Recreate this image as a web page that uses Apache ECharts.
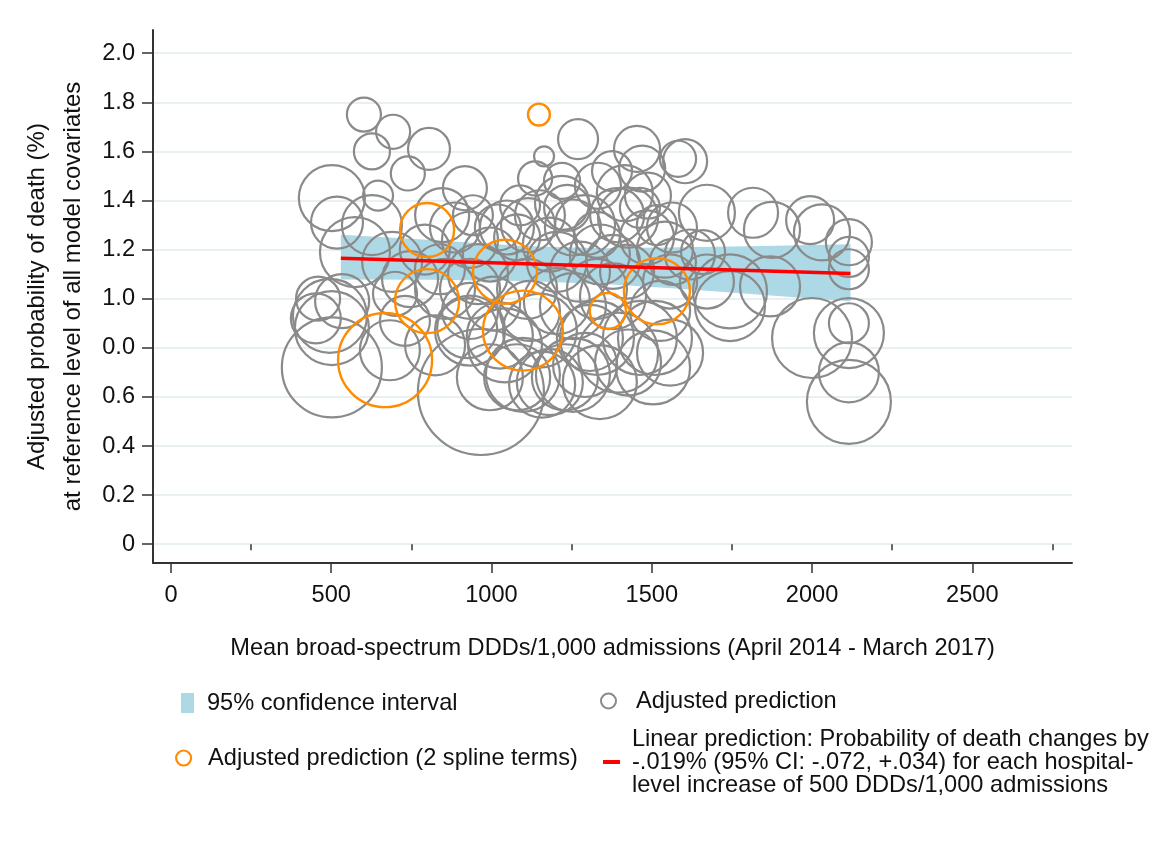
<!DOCTYPE html>
<html>
<head>
<meta charset="utf-8">
<script src="https://cdn.jsdelivr.net/npm/echarts@6/dist/echarts.min.js"></script>
<style>
  html, body { margin: 0; padding: 0; background: #fff; }
  #chart { width: 1160px; height: 842px; }
</style>
</head>
<body>
<div id="chart"></div>
<script>
  // hospitals: [mean DDDs/1,000 admissions, adjusted probability of death (%), bubble weight]
  var hospitals = [
    [602, 1.75, 11.6], [693, 1.68, 11.6], [627, 1.60, 13], [805, 1.61, 17.6], [739, 1.51, 11.6],
    [502, 1.41, 43.6], [646, 1.42, 9], [917, 1.45, 19.4], [518, 1.31, 27], [574, 1.19, 49],
    [627, 1.30, 36], [690, 1.15, 36], [846, 1.34, 29.2], [886, 1.29, 25], [933, 1.24, 31.4],
    [792, 1.20, 25], [534, 0.99, 29.2], [496, 0.93, 54.8], [502, 0.88, 54.8], [502, 0.72, 100],
    [459, 1.00, 19.4], [452, 0.92, 25], [683, 0.79, 36], [824, 0.81, 36], [967, 0.62, 158.8],
    [746, 1.08, 31.4], [855, 1.04, 36], [933, 0.95, 31.4], [730, 0.91, 25], [933, 0.87, 49],
    [839, 1.12, 25], [958, 1.10, 36], [699, 1.02, 19.4], [1270, 1.65, 16], [1164, 1.58, 4],
    [1136, 1.49, 11.6], [1220, 1.48, 13], [1454, 1.61, 21.2], [1470, 1.53, 21.2], [1582, 1.57, 13],
    [1604, 1.56, 19.4], [1332, 1.46, 21.2], [1416, 1.43, 31.4], [1488, 1.42, 21.2], [1220, 1.39, 29.2],
    [1292, 1.30, 36], [1114, 1.30, 29.2], [1020, 1.29, 21.2], [1563, 1.29, 25], [1426, 1.33, 36],
    [1089, 1.38, 16], [1048, 1.29, 29.2], [1151, 1.34, 25], [1254, 1.29, 31.4], [1392, 1.34, 29.2],
    [1485, 1.25, 29.2], [1338, 1.18, 36], [1204, 1.15, 36], [1111, 1.04, 36], [1254, 0.97, 43.6],
    [1379, 1.01, 43.6], [1151, 0.87, 54.8], [1329, 0.84, 54.8], [1463, 0.84, 54.8], [924, 0.88, 36],
    [933, 1.04, 36], [995, 1.18, 29.2], [1098, 0.69, 54.8], [1254, 0.69, 54.8], [1426, 0.74, 43.6],
    [1182, 0.66, 43.6], [1557, 0.78, 43.6], [1005, 0.98, 29.2], [1526, 0.95, 36], [1516, 1.30, 16],
    [1557, 1.07, 29.2], [1672, 1.35, 31.4], [1816, 1.35, 25], [1875, 1.28, 31.4], [1994, 1.32, 23],
    [2031, 1.27, 31.4], [2115, 1.23, 21.2], [2115, 1.17, 16], [2115, 1.12, 16], [1660, 1.19, 19.4],
    [1744, 1.03, 54.8], [1869, 1.05, 36], [1672, 1.07, 29.2], [2000, 0.84, 64], [2115, 0.86, 49],
    [2115, 0.90, 16], [2115, 0.70, 36], [2115, 0.58, 70.6], [1744, 0.97, 49], [1376, 1.52, 16],
    [1619, 1.18, 25], [1541, 1.20, 31.4], [1080, 0.68, 43.6], [1158, 0.65, 43.6], [1229, 0.68, 43.6],
    [1292, 0.73, 41], [1395, 0.78, 64], [1510, 0.84, 54.8], [1042, 0.81, 54.8],
    [942, 1.34, 16], [1080, 1.25, 21.2], [1182, 1.22, 29.2], [1276, 1.11, 36], [1120, 0.95, 36],
    [1204, 0.99, 43.6], [1329, 1.04, 36], [1423, 1.11, 29.2], [1026, 0.85, 43.6], [1307, 0.84, 43.6],
    [1379, 1.15, 29.2], [1566, 1.15, 21.2], [1236, 1.37, 21.2], [1329, 1.26, 21.2], [1463, 1.37, 16],
    [995, 0.68, 43.6], [1338, 0.66, 54.8], [1504, 0.72, 54.8]
  ];
  var splineHospitals = [
    [1148, 1.75, 4.8], [799, 1.28, 29.2], [1042, 1.11, 41], [1516, 1.03, 43.6],
    [799, 0.99, 41], [668, 0.75, 88.4], [1098, 0.87, 64], [1363, 0.95, 13]
  ];

  // 95% CI band and linear fit
  var ciX     = [530, 800, 1100, 1350, 1600, 1850, 2120];
  var ciLower = [1.078, 1.077, 1.072, 1.06, 1.04, 1.015, 0.99];
  var ciUpper = [1.26, 1.24, 1.215, 1.205, 1.21, 1.215, 1.222];
  var fitX = [530, 2120];
  var fitY = [1.165, 1.103];

  var xTicks      = [0, 500, 1000, 1500, 2000, 2500];
  var xMinorTicks = [250, 750, 1250, 1750, 2250, 2750];
  var yTicks      = [0, 0.2, 0.4, 0.6, 0.8, 1.0, 1.2, 1.4, 1.6, 1.8, 2.0];
  var yTickLabels = ['0', '0.2', '0.4', '0.6', '0.0', '1.0', '1.2', '1.4', '1.6', '1.8', '2.0'];

  var linearName = 'Linear prediction';
  var linearText = 'Linear prediction: Probability of death changes by\n' +
                   '-.019% (95% CI: -.072, +.034) for each hospital-\n' +
                   'level increase of 500 DDDs/1,000 admissions';

  var FONT = 'Liberation Sans, Arial, sans-serif';
  var FS = 23.6;
  var GREY = '#8a8a8a', ORANGE = '#ff8c00', BLUE = '#add8e6', RED = '#ff0000';

  function bubbleSize(v) {
    return Math.sqrt(v[2]) * 10;
  }

  function pairs(xs, ys) {
    return xs.map(function(x, i) { return [x, ys[i]]; });
  }

  // band polygon: upper edge left->right, lower edge right->left
  function renderBand(params, api) {
    if (params.dataIndex !== 0) return;
    var upper = [], lower = [];
    for (var i = 0; i < ciX.length; i++) {
      upper.push(api.coord([ciX[i], ciUpper[i]]));
      lower.unshift(api.coord([ciX[i], ciLower[i]]));
    }
    return {
      type: 'polygon',
      shape: { points: upper.concat(lower) },
      style: { fill: BLUE }
    };
  }

  function legendAt(name, left, top, icon, w, h, style, pad) {
    return {
      left: left, top: top, padding: 0, itemWidth: w, itemHeight: h,
      selectedMode: false,
      data: [{ name: name, icon: icon, itemStyle: style }],
      formatter: function(n) { return n === linearName ? linearText : n; },
      textStyle: { fontFamily: FONT, fontSize: FS, color: '#111', lineHeight: 23, padding: [0, 0, 0, pad] }
    };
  }

  var chart = echarts.init(document.getElementById('chart'), null, { renderer: 'canvas' });

  var axisText = { fontFamily: FONT, fontSize: FS, color: '#111' };

  var option = {
    animation: false,
    backgroundColor: '#fff',
    grid: { left: 153, top: 30, width: 919, height: 533, containLabel: false },
    xAxis: [{
      type: 'value', min: -56, max: 2811,
      name: 'Mean broad-spectrum DDDs/1,000 admissions (April 2014 - March 2017)',
      nameLocation: 'middle', nameGap: 73, nameTextStyle: axisText,
      axisLine: { show: true, onZero: false, lineStyle: { color: '#333', width: 2 } },
      axisTick: { show: true, length: 10, customValues: xTicks, lineStyle: { color: '#333', width: 1.5 } },
      axisLabel: Object.assign({
        customValues: xTicks, margin: 20,
        formatter: function(v) { return String(v); }
      }, axisText),
      splitLine: { show: false }
    }, {
      type: 'value', min: -56, max: 2811, position: 'bottom',
      axisLine: { show: false },
      axisTick: { show: true, length: 6, customValues: xMinorTicks, lineStyle: { color: '#333', width: 1.5 } },
      axisLabel: { show: false },
      splitLine: { show: false }
    }],
    yAxis: {
      type: 'value', min: -0.0766, max: 2.0945,
      name: 'Adjusted probability of death (%)\nat reference level of all model covariates',
      nameLocation: 'middle', nameGap: 58, nameRotate: 90,
      nameTextStyle: Object.assign({}, axisText, { fontSize: 24, lineHeight: 36 }),
      axisLine: { show: true, onZero: false, lineStyle: { color: '#333', width: 2 } },
      axisTick: { show: true, length: 11, customValues: yTicks, lineStyle: { color: '#333', width: 1.5 } },
      axisLabel: Object.assign({
        customValues: yTicks, margin: 18,
        formatter: function(v) {
          for (var i = 0; i < yTicks.length; i++) {
            if (Math.abs(yTicks[i] - v) < 1e-6) return yTickLabels[i];
          }
          return '';
        }
      }, axisText),
      splitLine: { show: true, lineStyle: { color: '#e8f0f3', width: 2 } }
    },
    legend: [
      legendAt('95% confidence interval', 181, 691, 'rect', 13, 20, { color: BLUE }, 8),
      legendAt('Adjusted prediction', 600, 689, 'circle', 15, 15,
        { color: 'rgba(0,0,0,0)', borderColor: GREY, borderWidth: 2 }, 15),
      legendAt('Adjusted prediction (2 spline terms)', 175, 746, 'circle', 15, 15,
        { color: 'rgba(0,0,0,0)', borderColor: ORANGE, borderWidth: 2.2 }, 12),
      legendAt(linearName, 603, 727, 'rect', 17, 4, { color: RED }, 7)
    ],
    series: [{
      name: '95% confidence interval', type: 'custom', z: 1, silent: true,
      itemStyle: { color: BLUE },
      renderItem: renderBand,
      encode: { x: 0, y: [1, 2] },
      data: ciX.map(function(x, i) { return [x, ciLower[i], ciUpper[i]]; })
    }, {
      name: 'Adjusted prediction', type: 'scatter', z: 2, silent: true,
      symbolSize: bubbleSize,
      itemStyle: { color: 'rgba(0,0,0,0)', borderColor: GREY, borderWidth: 2.2, opacity: 1 },
      data: hospitals
    }, {
      name: 'Adjusted prediction (2 spline terms)', type: 'scatter', z: 3, silent: true,
      symbolSize: bubbleSize,
      itemStyle: { color: 'rgba(0,0,0,0)', borderColor: ORANGE, borderWidth: 2.4, opacity: 1 },
      data: splineHospitals
    }, {
      name: linearName, type: 'line', z: 4, silent: true,
      symbol: 'none', itemStyle: { color: RED },
      lineStyle: { color: RED, width: 3.5 },
      data: pairs(fitX, fitY)
    }]
  };

  chart.setOption(option);
</script>
</body>
</html>
